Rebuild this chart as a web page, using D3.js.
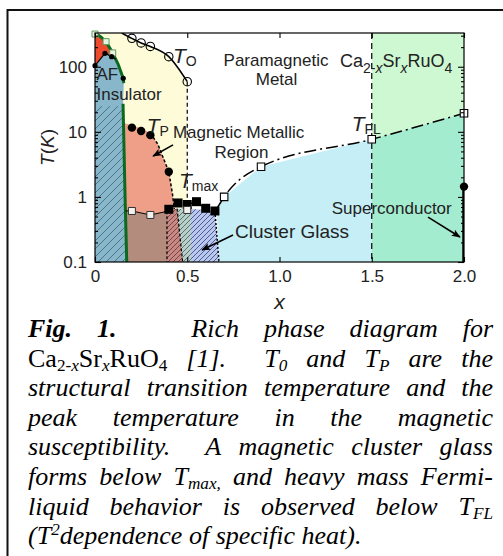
<!DOCTYPE html>
<html>
<head>
<meta charset="utf-8">
<script src="https://cdn.jsdelivr.net/npm/d3@7"></script>
<style>
  body { margin: 0; background: #fff; }
  svg { display: block; }
</style>
</head>
<body>
<div id="chart"></div>
<script>
// ---- data (x = Sr content, T in K) ----
// structural transition T_O (open circles)
var toX = [0.20, 0.25, 0.30, 0.40, 0.50];
var toT = [273, 232, 205, 143, 59];
// peak of susceptibility T_P (filled circles)
var tpX = [0.20, 0.25, 0.30, 0.40];
var tpT = [11.6, 10.3, 8.9, 2.44];
// cluster glass T_max (filled squares)
var tmX = [0.40, 0.45, 0.50, 0.55, 0.60, 0.65];
var tmT = [0.646, 0.807, 0.765, 0.845, 0.669, 0.608];
// Fermi liquid T_FL (open squares)
var flX = [0.70, 0.90, 1.50, 2.00];
var flT = [1.00, 2.91, 7.68, 19.3];
// low-T open squares under the magnetic metallic region
var lowX = [0.20, 0.30, 0.50];
var lowT = [0.608, 0.528, 0.63];
// AF transition: open squares and filled dots
var afSqX = [0.0, 0.06, 0.096];
var afSqT = [318, 243, 163];
var afDotX = [0.0, 0.054, 0.09, 0.153];
var afDotT = [104, 161, 143, 66.5];
// superconducting Tc at x = 2
var scX = [2.0];
var scT = [1.44];

// region outlines [x, T]
var afLineTop = [[0, 330], [0.03, 290], [0.06, 243], [0.096, 163], [0.112, 131], [0.125, 110], [0.153, 66.5], [0.156, 56]];
var afLineLow = [[0.152, 27], [0.163, 1], [0.172, 0.1]];
var afRedLow = [[0, 104], [0.054, 161], [0.09, 143], [0.112, 131]];
var toStart = [0.145, 330];
var salmonTop = [[0.16, 13.5], [0.2, 12.6], [0.25, 11.3], [0.30, 9.6], [0.34, 6.5], [0.40, 2.44], [0.42, 1.1], [0.43, 0.65]];
var lowLine = [[0.165, 0.61], [0.20, 0.608], [0.30, 0.528], [0.39, 0.6]];
var tflLine = [[0.655, 0.62], [0.70, 1.00], [0.90, 2.91], [1.50, 7.68], [2.00, 19.3]];
var hatchTop = 25;

var xTicks = [0, 0.5, 1.0, 1.5, 2.0];
var xTickLabels = ["0", "0.5", "1.0", "1.5", "2.0"];
var yTicks = [0.1, 1, 10, 100];
var yTickLabels = ["0.1", "1", "10", "100"];

var W = 503, H = 556;
var x = d3.scaleLinear().domain([0, 2]).range([95, 464]);
var y = d3.scaleLog().domain([0.1, 330]).range([262, 33]);

var svg = d3.select("#chart").append("svg").attr("width", W).attr("height", H);
var defs = svg.append("defs");

function hatch(id, bg, fg, size) {
  var p = defs.append("pattern").attr("id", id)
    .attr("patternUnits", "userSpaceOnUse")
    .attr("width", size).attr("height", size);
  p.append("rect").attr("width", size).attr("height", size).attr("fill", bg);
  p.append("path")
    .attr("d", "M" + (-size / 4) + "," + (size / 4) + "l" + (size / 2) + "," + (-size / 2) +
      "M0," + size + "l" + size + "," + (-size) +
      "M" + (size * 3 / 4) + "," + (size * 5 / 4) + "l" + (size / 2) + "," + (-size / 2))
    .attr("stroke", fg).attr("stroke-width", 0.8);
}
hatch("hAF", "#88b6ca", "#3d6474", 8);
hatch("hRed", "#c48a86", "#7a2a2a", 5);
hatch("hGrey", "#b7cfc8", "#3f5a55", 5);
hatch("hBlue", "#b9c8ea", "#2f3f8a", 5);

var line = d3.line().x(d => x(d[0])).y(d => y(d[1]));
var poly = pts => line(pts) + "Z";

var plot = svg.append("g");
plot.append("clipPath").attr("id", "clip").append("rect")
  .attr("x", x(0)).attr("y", y(330)).attr("width", x(2) - x(0)).attr("height", y(0.1) - y(330));
defs.append("clipPath").attr("id", "clipHatch").append("rect")
  .attr("x", x(0)).attr("y", y(hatchTop)).attr("width", x(2) - x(0)).attr("height", y(0.1) - y(hatchTop));
var g = plot.append("g").attr("clip-path", "url(#clip)");

var toPts = toX.map((v, i) => [v, toT[i]]);

// yellow: between AF line and T_O / x=0.5
g.append("path").attr("fill", "#fdfbd8")
  .attr("d", poly([[0, 330], toStart].concat(toPts).concat([[0.5, 0.7], [0.43, 0.65], [0.172, 0.1], [0, 0.1]])));
// salmon magnetic metallic region
g.append("path").attr("fill", "#ef9f88")
  .attr("d", poly(salmonTop.concat(lowLine.slice().reverse())));
// brown below open squares
g.append("path").attr("fill", "#b48c7d")
  .attr("d", poly(lowLine.concat([[0.39, 0.1], [0.172, 0.1]])));
// hatched cluster glass strips
g.append("path").attr("fill", "url(#hRed)")
  .attr("d", poly([[0.39, 0.62], [0.445, 0.66], [0.475, 0.1], [0.39, 0.1]]));
g.append("path").attr("fill", "url(#hGrey)")
  .attr("d", poly([[0.445, 0.66], [0.52, 0.66], [0.52, 0.1], [0.475, 0.1]]));
g.append("path").attr("fill", "url(#hBlue)")
  .attr("d", poly([[0.52, 0.66], [0.65, 0.608], [0.672, 0.1], [0.52, 0.1]]));
// light blue cluster glass / metal region under T_FL
g.append("path").attr("fill", "#c6eef6")
  .attr("d", poly([[0.672, 0.1], [0.66, 0.6]].concat(tflLine.slice(1, 4)).concat([[1.5, 0.1]])));
// green regions x > 1.5
g.append("path").attr("fill", "#cdf8d1")
  .attr("d", poly([[1.5, 330], [2, 330], [2, 19.3], [1.5, 7.68]]));
g.append("path").attr("fill", "#a4ecd0")
  .attr("d", poly([[1.5, 7.68], [2, 19.3], [2, 0.1], [1.5, 0.1]]));
// AF insulator (blue, hatched below) and red AF corner
var blueOutline = poly(afRedLow.concat(afLineTop.slice(5)).concat(afLineLow).concat([[0, 0.1]]));
g.append("path").attr("fill", "#88b6ca").attr("d", blueOutline);
g.append("g").attr("clip-path", "url(#clipHatch)")
  .append("path").attr("fill", "url(#hAF)").attr("d", blueOutline);
g.append("path").attr("fill", "#ee4a2e")
  .attr("d", poly(afLineTop.slice(0, 5).concat(afRedLow.slice(0, 3).reverse())));

// boundaries
g.append("path").attr("fill", "none").attr("stroke", "#0b6a1f").attr("stroke-width", 3)
  .attr("d", line(afLineTop));
g.append("path").attr("fill", "none").attr("stroke", "#0b6a1f").attr("stroke-width", 3)
  .attr("d", line(afLineLow));
g.append("path").attr("fill", "none").attr("stroke", "#000").attr("stroke-width", 1.2)
  .attr("d", line(afRedLow));
g.append("path").attr("fill", "none").attr("stroke", "#000").attr("stroke-width", 1.5)
  .attr("d", d3.line().x(d => x(d[0])).y(d => y(d[1])).curve(d3.curveMonotoneX)([toStart].concat(toPts)));
g.append("path").attr("fill", "none").attr("stroke", "#000").attr("stroke-width", 1.2)
  .attr("stroke-dasharray", "4,3")
  .attr("d", line([[0.5, 59], [0.5, 0.77]]));
g.append("path").attr("fill", "none").attr("stroke", "#000").attr("stroke-width", 1.5)
  .attr("stroke-dasharray", "3,2")
  .attr("d", line(salmonTop.slice(3)));
g.append("path").attr("fill", "none").attr("stroke", "#000").attr("stroke-width", 1)
  .attr("d", line(lowLine));
g.append("path").attr("fill", "none").attr("stroke", "#000").attr("stroke-width", 1.5)
  .attr("stroke-dasharray", "2,2")
  .attr("d", line(tmX.map((v, i) => [v, tmT[i]])));
g.append("path").attr("fill", "none").attr("stroke", "#000").attr("stroke-width", 1.2)
  .attr("stroke-dasharray", "3,2")
  .attr("d", line([[0.39, 0.6], [0.39, 0.1]]));
g.append("path").attr("fill", "none").attr("stroke", "#000").attr("stroke-width", 1.2)
  .attr("stroke-dasharray", "3,2")
  .attr("d", line([[0.445, 0.66], [0.475, 0.1]]));
g.append("path").attr("fill", "none").attr("stroke", "#000").attr("stroke-width", 1.5)
  .attr("stroke-dasharray", "2,2")
  .attr("d", line([[0.65, 0.608], [0.672, 0.1]]));
g.append("path").attr("fill", "none").attr("stroke", "#000").attr("stroke-width", 1.5)
  .attr("stroke-dasharray", "12,4,2,4")
  .attr("d", d3.line().x(d => x(d[0])).y(d => y(d[1])).curve(d3.curveMonotoneX)(tflLine));
g.append("path").attr("fill", "none").attr("stroke", "#000").attr("stroke-width", 1.2)
  .attr("stroke-dasharray", "6,4")
  .attr("d", line([[1.5, 330], [1.5, 0.1]]));
g.append("path").attr("fill", "none").attr("stroke", "#000").attr("stroke-width", 3.5)
  .attr("d", line([[2, scT[0]], [2, 0.1]]));

// markers
var sq = (s) => d3.symbol().type(d3.symbolSquare).size(s * s);
plot.selectAll(".to").data(toPts).enter().append("circle")
  .attr("cx", d => x(d[0])).attr("cy", d => y(d[1])).attr("r", 4.2)
  .attr("fill", "none").attr("stroke", "#000").attr("stroke-width", 1.1);
plot.selectAll(".tp").data(tpX.map((v, i) => [v, tpT[i]])).enter().append("circle")
  .attr("cx", d => x(d[0])).attr("cy", d => y(d[1])).attr("r", 4.2).attr("fill", "#000");
plot.selectAll(".tm").data(tmX.map((v, i) => [v, tmT[i]])).enter().append("path")
  .attr("transform", d => "translate(" + x(d[0]) + "," + y(d[1]) + ")")
  .attr("d", sq(9)()).attr("fill", "#000");
plot.selectAll(".low").data(lowX.map((v, i) => [v, lowT[i]])).enter().append("path")
  .attr("transform", d => "translate(" + x(d[0]) + "," + y(d[1]) + ")")
  .attr("d", sq(7)()).attr("fill", "#f4f0ee").attr("stroke", "#333").attr("stroke-width", 1);
plot.selectAll(".fl").data(flX.map((v, i) => [v, flT[i]])).enter().append("path")
  .attr("transform", d => "translate(" + x(d[0]) + "," + y(d[1]) + ")")
  .attr("d", sq(7.5)()).attr("fill", "#fff").attr("stroke", "#000").attr("stroke-width", 1.1);
plot.selectAll(".afsq").data(afSqX.map((v, i) => [v, afSqT[i]])).enter().append("path")
  .attr("transform", d => "translate(" + x(d[0]) + "," + y(d[1]) + ")")
  .attr("d", sq(6)()).attr("fill", "#e8f3e0").attr("stroke", "#5d9a5d").attr("stroke-width", 1);
plot.selectAll(".afdot").data(afDotX.map((v, i) => [v, afDotT[i]])).enter().append("circle")
  .attr("cx", d => x(d[0])).attr("cy", d => y(d[1])).attr("r", 2.6).attr("fill", "#000");
plot.append("circle").attr("cx", x(scX[0])).attr("cy", y(scT[0])).attr("r", 4.2).attr("fill", "#000");

// axes
plot.append("rect").attr("x", x(0)).attr("y", y(330)).attr("width", x(2) - x(0)).attr("height", y(0.1) - y(330))
  .attr("fill", "none").attr("stroke", "#000").attr("stroke-width", 1.2);
var minor = [];
[0.1, 1, 10, 100].forEach(function (d) { for (var k = 2; k < 10; k++) if (d * k < 330) minor.push(d * k); });
var axFont = "'Liberation Sans', Arial, sans-serif";
function styleAxis(sel) {
  sel.select(".domain").remove();
  sel.selectAll("line").attr("stroke", "#000").attr("stroke-width", 1.1);
  sel.selectAll("text").style("font-family", axFont).style("font-size", "17px").attr("fill", "#222");
}
svg.append("g").attr("transform", "translate(" + x(0) + ",0)")
  .call(d3.axisLeft(y).tickValues(yTicks).tickFormat((d, i) => yTickLabels[i]).tickSize(-6).tickPadding(8))
  .call(styleAxis);
svg.append("g").attr("transform", "translate(" + x(0) + ",0)")
  .call(d3.axisLeft(y).tickValues(minor).tickFormat("").tickSize(-3)).call(styleAxis);
svg.append("g").attr("transform", "translate(" + x(2) + ",0)")
  .call(d3.axisRight(y).tickValues(yTicks).tickFormat("").tickSize(-6)).call(styleAxis);
svg.append("g").attr("transform", "translate(" + x(2) + ",0)")
  .call(d3.axisRight(y).tickValues(minor).tickFormat("").tickSize(-3)).call(styleAxis);
svg.append("g").attr("transform", "translate(0," + y(0.1) + ")")
  .call(d3.axisBottom(x).tickValues(xTicks).tickFormat((d, i) => xTickLabels[i]).tickSize(-5).tickPadding(8))
  .call(styleAxis);
svg.append("g").attr("transform", "translate(0," + y(330) + ")")
  .call(d3.axisTop(x).tickValues(xTicks).tickFormat("").tickSize(-5)).call(styleAxis);

// axis titles
svg.append("text").attr("transform", "translate(54," + ((y(0.1) + y(330)) / 2) + ") rotate(-90)")
  .attr("text-anchor", "middle").style("font-family", axFont).style("font-size", "19px").attr("fill", "#222")
  .html("<tspan font-style='italic'>T</tspan>(<tspan font-style='italic'>K</tspan>)");
svg.append("text").attr("x", (x(0) + x(2)) / 2).attr("y", 309).attr("text-anchor", "middle")
  .style("font-family", axFont).style("font-size", "21px").style("font-style", "italic").attr("fill", "#222").text("x");

// region labels [text, x, T, size, anchor]
var labels = [
  ["AF", 0.008, 62.6, 17, "start"],
  ["Insulator", 0.008, 30.8, 17, "start"],
  ["Paramagnetic", 0.981, 103, 17, "middle"],
  ["Metal", 0.984, 52.5, 17, "middle"],
  ["Magnetic Metallic", 0.778, 8.04, 17, "middle"],
  ["Region", 0.794, 4.0, 17, "middle"],
  ["Cluster Glass", 0.759, 0.23, 19, "start"],
  ["Superconductor", 1.283, 0.547, 17, "start"]
];
plot.selectAll(".lab").data(labels).enter().append("text")
  .attr("x", d => x(d[1])).attr("y", d => y(d[2])).attr("text-anchor", d => d[4])
  .style("font-family", axFont).style("font-size", d => d[3] + "px").attr("fill", "#222").text(d => d[0]);

// temperature symbols [main, sub, x, T]
var tLabels = [["T", "O", 0.423, 115], ["T", "P", 0.28, 9.6], ["T", "max", 0.455, 1.36], ["T", "FL", 1.391, 10.4]];
tLabels.forEach(function (d) {
  var t = plot.append("text").attr("x", x(d[2])).attr("y", y(d[3]))
    .style("font-family", axFont).attr("fill", "#222");
  t.append("tspan").style("font-size", "21px").style("font-style", "italic").text(d[0]);
  t.append("tspan").style("font-size", "14px").attr("dx", 0).attr("dy", 3).text(d[1]);
});
var formula = plot.append("text").attr("x", x(1.328)).attr("y", y(100))
  .style("font-family", axFont).style("font-size", "18px").attr("fill", "#222");
[["Ca", 0, 0], ["2-", 1, 0], ["x", 1, 1], ["Sr", 0, 0], ["x", 1, 1], ["RuO", 0, 0], ["4", 1, 0]].forEach(function (r, i, arr) {
  var prevSub = i > 0 && arr[i - 1][1];
  var ts = formula.append("tspan").text(r[0]);
  var dy = (r[1] ? 6 : 0) - (prevSub ? 6 : 0);
  if (dy) ts.attr("dy", dy);
  if (r[1]) ts.style("font-size", "14px");
  if (r[2]) ts.style("font-style", "italic");
});

// arrows [x1, T1, x2, T2]
var arrows = [[0.423, 6.3, 0.315, 4.25], [0.748, 0.26, 0.58, 0.153], [1.805, 0.49, 1.978, 0.242]];
defs.append("marker").attr("id", "ah").attr("viewBox", "0 0 10 10").attr("refX", 9).attr("refY", 5)
  .attr("markerWidth", 9).attr("markerHeight", 9).attr("markerUnits", "userSpaceOnUse").attr("orient", "auto")
  .append("path").attr("d", "M0,1L10,5L0,9L2,5Z").attr("fill", "#000");
plot.selectAll(".arr").data(arrows).enter().append("line")
  .attr("x1", d => x(d[0])).attr("y1", d => y(d[1])).attr("x2", d => x(d[2])).attr("y2", d => y(d[3]))
  .attr("stroke", "#000").attr("stroke-width", 1.6).attr("marker-end", "url(#ah)");

// outer frame (top and left rules)
svg.append("path").attr("d", "M7.5,556V10H503").attr("fill", "none").attr("stroke", "#111").attr("stroke-width", 2);

// ---- caption, justified line by line ----
var capLines = [
  [[["Fig.", "b"]], [["1.", "b"]], 3, [["Rich"]], [["phase"]], [["diagram"]], [["for"]]],
  [[["Ca", "r"], ["2-", "rsub"], ["x", "sub"], ["Sr", "r"], ["x", "sub"], ["RuO", "r"], ["4", "rsub"]], [["[1]."]], 2, [["T"], ["0", "sub"]], [["and"]], [["T"], ["P", "sub"]], [["are"]], [["the"]]],
  [[["structural"]], [["transition"]], [["temperature"]], [["and"]], [["the"]]],
  [[["peak"]], [["temperature"]], [["in"]], [["the"]], [["magnetic"]]],
  [[["susceptibility."]], 2, [["A"]], [["magnetic"]], [["cluster"]], [["glass"]]],
  [[["forms"]], [["below"]], [["T"], ["max,", "sub"]], [["and"]], [["heavy"]], [["mass"]], [["Fermi-"]]],
  [[["liquid"]], [["behavior"]], [["is"]], [["observed"]], [["below"]], [["T"], ["FL", "sub"]]],
  [[["(T"], ["2", "sup"], ["dependence"]], [["of"]], [["specific"]], [["heat)."]]]
];
var capLeft = 28, capRight = 493, capFont = 26, capTop = 337, capStep = 29.6;
var cap = svg.append("g").style("font-family", "'Liberation Serif', 'Times New Roman', serif")
  .style("font-size", capFont + "px").attr("fill", "#000");
capLines.forEach(function (ln, li) {
  var words = [], gaps = [], pendingGap = 1;
  ln.forEach(function (item) {
    if (typeof item === "number") { pendingGap = item; return; }
    if (words.length) gaps.push(pendingGap);
    pendingGap = 1;
    var t = cap.append("text").attr("y", capTop + li * capStep);
    var shift = 0;
    item.forEach(function (r) {
      var st = r[1] || "";
      var want = st.indexOf("sub") >= 0 ? 4 : st === "sup" ? -9 : 0;
      var ts = t.append("tspan").text(r[0]);
      if (want - shift) ts.attr("dy", want - shift);
      shift = want;
      ts.style("font-style", st.indexOf("r") === 0 ? "normal" : "italic");
      if (st === "b") ts.style("font-weight", "bold");
      if (st.indexOf("sub") >= 0 || st === "sup") ts.style("font-size", (capFont * 0.66) + "px");
    });
    words.push(t);
  });
  var widths = words.map(w => w.node().getComputedTextLength());
  var sp = capFont * 0.25;
  var total = d3.sum(widths) + d3.sum(gaps) * sp;
  var extra = li === capLines.length - 1 ? 0 : (capRight - capLeft - total) / d3.sum(gaps);
  var cx = capLeft;
  words.forEach(function (w, i) {
    w.attr("x", cx);
    cx += widths[i] + (i < gaps.length ? gaps[i] * (sp + extra) : 0);
  });
});
</script>
</body>
</html>
